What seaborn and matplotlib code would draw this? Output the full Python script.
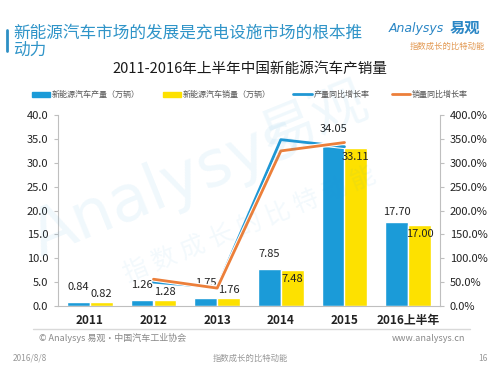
import numpy as np
import pandas as pd
import seaborn as sns
import matplotlib.pyplot as plt
import matplotlib.patheffects as pe
from matplotlib.lines import Line2D
from matplotlib.patches import Patch
from matplotlib.ticker import FuncFormatter, MultipleLocator

# data
years = ["2011", "2012", "2013", "2014", "2015", "2016上半年"]
production = [0.84, 1.26, 1.75, 7.85, 34.05, 17.70]
sales = [0.82, 1.28, 1.76, 7.48, 33.11, 17.00]
growth_years = ["2012", "2013", "2014", "2015"]
production_growth = [50.0, 38.9, 348.6, 333.8]
sales_growth = [56.1, 37.5, 325.0, 342.6]

prod_name = "新能源汽车产量（万辆）"
sales_name = "新能源汽车销量（万辆）"
prod_g_name = "产量同比增长率"
sales_g_name = "销量同比增长率"

blue = "#1b9bd8"
yellow = "#fde100"
line_blue = "#1f97d4"
line_orange = "#ec7f3a"
grey = "#bfbfbf"

bars = pd.DataFrame({
    "year": years * 2,
    "value": production + sales,
    "series": [prod_name] * len(years) + [sales_name] * len(years),
})
growth = pd.DataFrame({
    "pos": [years.index(y) for y in growth_years] * 2,
    "rate": production_growth + sales_growth,
    "series": [prod_g_name] * len(growth_years) + [sales_g_name] * len(growth_years),
})

sns.set_style("white")
plt.rcParams["font.family"] = ["Noto Sans CJK SC", "DejaVu Sans"]

fig = plt.figure(figsize=(5, 3.75), dpi=100)

# watermark (behind everything)
fig.text(0.33, 0.5, "Analysys", fontsize=46, color="#2a9ad8", alpha=0.07,
         rotation=22, ha="center", va="center", family="DejaVu Sans")
fig.text(0.63, 0.68, "易观", fontsize=40, color="#2a9ad8", alpha=0.07,
         rotation=22, ha="center", va="center")
fig.text(0.5, 0.4, "指 数 成 长 的 比 特 动 能", fontsize=18, color="#2a9ad8", alpha=0.06,
         rotation=22, ha="center", va="center")

ax = fig.add_axes([0.116, 0.184, 0.764, 0.509])
ax.patch.set_alpha(0)

sns.barplot(data=bars, x="year", y="value", hue="series", order=years,
            palette=[blue, yellow], width=0.72, gap=0, saturation=1,
            legend=False, ax=ax)

ax2 = ax.twinx()
sns.lineplot(data=growth, x="pos", y="rate", hue="series",
             palette=[line_blue, line_orange], linewidth=2, legend=False, ax=ax2)
for ln in ax2.lines:
    ln.set_path_effects([pe.Stroke(linewidth=3.5, foreground="white"), pe.Normal()])

# value labels
for i, v in enumerate(production):
    ax.annotate(f"{v:.2f}", (i - 0.18, v), xytext=(0, 3 if i == 5 else 7),
                textcoords="offset points", ha="center", va="bottom", fontsize=8, color="#222222")
for i, v in enumerate(sales):
    inside = v > 5
    ax.annotate(f"{v:.2f}", (i + 0.18, v), xytext=(0, -3 if inside else 2),
                textcoords="offset points", ha="center", va="top" if inside else "bottom",
                fontsize=8, color="#222222")

ax.set_xlim(-0.5, 5.5)
ax2.set_xlim(-0.5, 5.5)
ax.set_ylim(0, 40)
ax2.set_ylim(0, 400)
ax.yaxis.set_major_locator(MultipleLocator(5))
ax2.yaxis.set_major_locator(MultipleLocator(50))
ax.yaxis.set_major_formatter(FuncFormatter(lambda v, p: f"{v:.1f}"))
ax2.yaxis.set_major_formatter(FuncFormatter(lambda v, p: f"{v:.1f}%"))
ax.set_xlabel("")
ax.set_ylabel("")
ax2.set_xlabel("")
ax2.set_ylabel("")
ax.tick_params(axis="x", length=0, labelsize=8.5, pad=6, labelcolor="#222222")
for t in ax.get_xticklabels():
    t.set_fontweight("bold")
ax.tick_params(axis="y", length=3, color=grey, labelsize=8, direction="out", left=True,
               pad=4, labelcolor="#222222")
ax2.tick_params(axis="y", length=3, color=grey, labelsize=8, direction="out", right=True,
                pad=4, labelcolor="#222222")
for a in (ax, ax2):
    for s in ("left", "right", "bottom"):
        a.spines[s].set_color(grey)
    a.spines["top"].set_visible(False)
ax.spines["right"].set_visible(False)
ax2.spines["left"].set_visible(False)
ax2.spines["bottom"].set_visible(False)

handles = [Patch(color=blue, label=prod_name), Patch(color=yellow, label=sales_name),
           Line2D([], [], color=line_blue, lw=2, label=prod_g_name),
           Line2D([], [], color=line_orange, lw=2, label=sales_g_name)]
fig.legend(handles=handles, loc="center", bbox_to_anchor=(0.5, 0.748), ncol=4,
           frameon=False, fontsize=5.8, handlelength=2.3, handleheight=0.6,
           columnspacing=2.8, handletextpad=0.2, labelcolor="#555555")

# header
fig.add_artist(Line2D([0.014, 0.014], [0.865, 0.92], color="#2d8fc4", lw=2))
fig.text(0.026, 0.935, "新能源汽车市场的发展是充电设施市场的根本推\n动力", fontsize=12,
         color="#2f94c8", va="top", ha="left", linespacing=1.05)
fig.text(0.5, 0.815, "2011-2016年上半年中国新能源汽车产销量", fontsize=10.5,
         ha="center", va="center", color="#1a1a1a")
fig.text(0.778, 0.925, "Analysys", fontsize=9, style="italic", color="#2a86c5",
         ha="left", va="center", family="DejaVu Sans")
fig.text(0.9, 0.925, "易观", fontsize=11, fontweight="bold", color="#2a86c5",
         ha="left", va="center")
fig.text(0.97, 0.875, "指数成长的比特动能", fontsize=6, color="#e39a54",
         ha="right", va="center")

# footer
fig.add_artist(Line2D([0.066, 0.94], [0.123, 0.123], color="#d9d9d9", lw=1))
fig.text(0.078, 0.098, "© Analysys 易观·中国汽车工业协会", fontsize=6.5, color="#888888",
         ha="left", va="center")
fig.text(0.93, 0.098, "www.analysys.cn", fontsize=6.5, color="#888888", ha="right", va="center")
fig.text(0.026, 0.045, "2016/8/8", fontsize=6, color="#999999", ha="left", va="center")
fig.text(0.5, 0.045, "指数成长的比特动能", fontsize=6, color="#999999", ha="center", va="center")
fig.text(0.975, 0.045, "16", fontsize=6, color="#999999", ha="right", va="center")

fig.savefig("out.png", dpi=100)
